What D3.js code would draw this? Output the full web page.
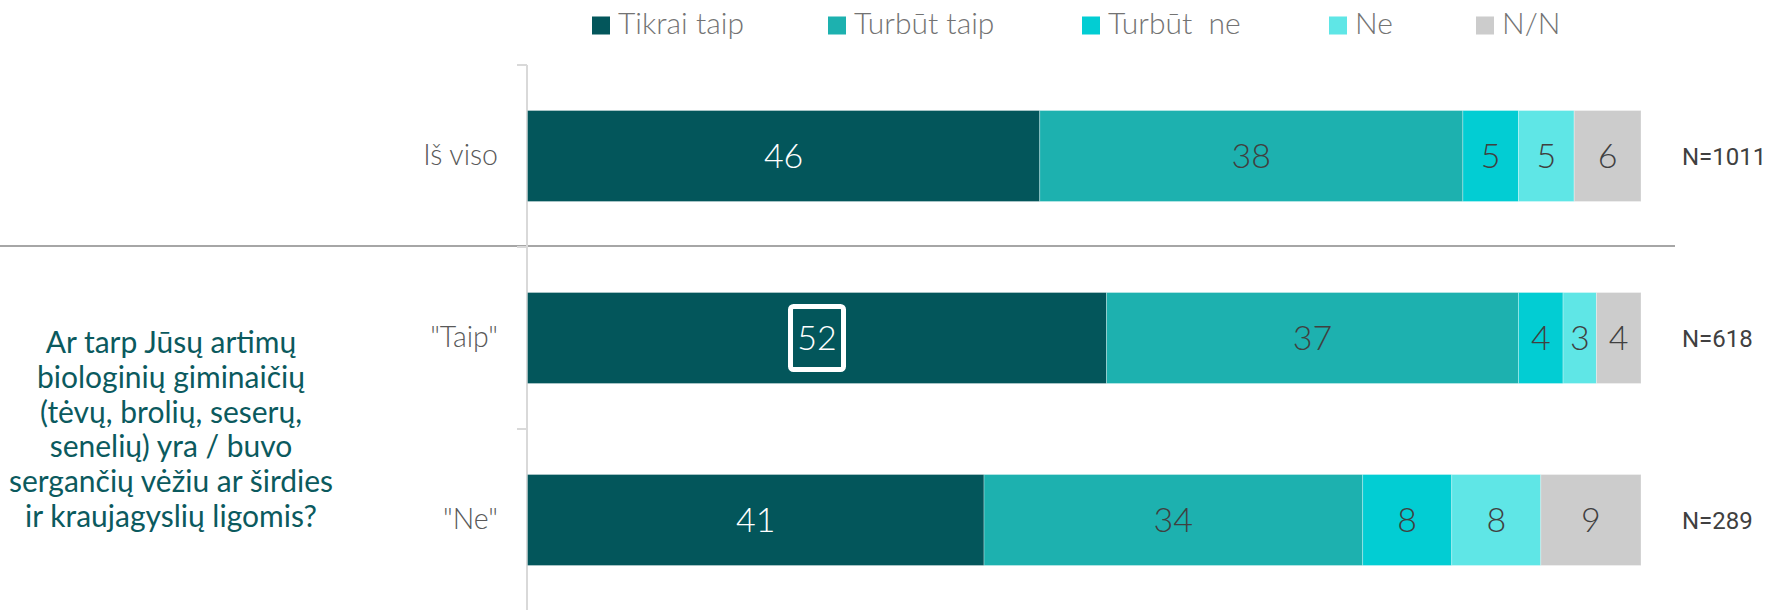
<!DOCTYPE html>
<html>
<head>
<meta charset="utf-8">
<script src="https://cdn.jsdelivr.net/npm/d3@7"></script>
<style>
  html, body { margin: 0; padding: 0; background: #ffffff; }
  svg { display: block; }
  text { font-family: "Segoe UI", "Lato", "Open Sans", sans-serif; white-space: pre; }
</style>
</head>
<body>
<svg id="chart" width="1772" height="610"></svg>
<script>
// ---- data ----
const categories = ["Iš viso", "\"Taip\"", "\"Ne\""];
const seriesNames = ["Tikrai taip", "Turbūt taip", "Turbūt  ne", "Ne", "N/N"];
const tikraiTaip = [46, 52, 41];
const turbutTaip = [38, 37, 34];
const turbutNe   = [5, 4, 8];
const ne         = [5, 3, 8];
const nn         = [6, 4, 9];
const sampleSizes = ["N=1011", "N=618", "N=289"];
const questionLines = [
  "Ar tarp Jūsų artimų",
  "biologinių giminaičių",
  "(tėvų, brolių, seserų,",
  "senelių) yra / buvo",
  "sergančių vėžiu ar širdies",
  "ir kraujagyslių ligomis?"
];
const highlightSeries = "Tikrai taip";
const highlightCategory = "\"Taip\"";

// ---- styles ----
const colors = ["#03565b", "#1db1af", "#02cdd3", "#5fe6e6", "#cccccc"];
const labelColors = ["#ffffff", "#404040", "#404040", "#404040", "#404040"];

const seriesValues = [tikraiTaip, turbutTaip, turbutNe, ne, nn];
const rows = categories.map((c, i) => {
  const r = { category: c };
  seriesNames.forEach((s, k) => { r[s] = seriesValues[k][i]; });
  return r;
});

const svg = d3.select("#chart");

const x = d3.scaleLinear().domain([0, 100]).range([527.5, 1641]);
const y = d3.scaleBand().domain(categories).range([65, 611])
  .paddingInner(0.5).paddingOuter(0.25);
const step = y.step();

const stacked = d3.stack().keys(seriesNames)(rows);

// separator line between total and groups
svg.append("line")
  .attr("x1", 0).attr("x2", 1675)
  .attr("y1", 246).attr("y2", 246)
  .attr("stroke", "#a6a6a6").attr("stroke-width", 2);

// axis line and boundary ticks
const axisX = x(0) - 0.5;
svg.append("line")
  .attr("x1", axisX).attr("x2", axisX)
  .attr("y1", y.range()[0]).attr("y2", 610)
  .attr("stroke", "#d9d9d9").attr("stroke-width", 2);
const boundaries = categories.map((c, i) => y.range()[0] + i * step);
svg.selectAll("line.tick").data(boundaries).enter().append("line")
  .attr("class", "tick")
  .attr("x1", axisX - 10).attr("x2", axisX)
  .attr("y1", d => d).attr("y2", d => d)
  .attr("stroke", "#d9d9d9").attr("stroke-width", 2);

// category labels
svg.selectAll("text.cat").data(categories).enter().append("text")
  .attr("class", "cat")
  .attr("x", 498)
  .attr("y", d => y(d) + y.bandwidth() / 2 + 9)
  .attr("text-anchor", "end")
  .attr("font-size", 28.5)
  .attr("font-weight", 300)
  .attr("fill", "#595959")
  .text(d => d);

// bars
const groups = svg.selectAll("g.series").data(stacked).enter().append("g")
  .attr("class", "series")
  .attr("fill", (d, i) => colors[i]);

groups.selectAll("rect").data(d => d).enter().append("rect")
  .attr("x", d => x(d[0]))
  .attr("y", d => y(d.data.category))
  .attr("width", d => x(d[1]) - x(d[0]))
  .attr("height", y.bandwidth())
  .attr("stroke", "rgba(255,255,255,0.3)")
  .attr("stroke-width", 1);

// value labels
stacked.forEach((s, i) => {
  svg.selectAll(null).data(s).enter().append("text")
    .attr("x", d => (x(d[0]) + x(d[1])) / 2)
    .attr("y", d => y(d.data.category) + y.bandwidth() / 2 + 12)
    .attr("text-anchor", "middle")
    .attr("font-size", 34)
    .attr("font-weight", 300)
    .attr("fill", labelColors[i])
    .text(d => d[1] - d[0]);
});

// highlight box
const hs = stacked[seriesNames.indexOf(highlightSeries)];
const hd = hs.find(d => d.data.category === highlightCategory);
const hcx = (x(hd[0]) + x(hd[1])) / 2;
const hcy = y(highlightCategory) + y.bandwidth() / 2;
svg.append("rect")
  .attr("x", hcx - 26.5).attr("y", hcy - 31.5)
  .attr("width", 53).attr("height", 63)
  .attr("rx", 3)
  .attr("fill", "none")
  .attr("stroke", "#ffffff").attr("stroke-width", 5);

// sample sizes
svg.selectAll("text.n").data(sampleSizes).enter().append("text")
  .attr("class", "n")
  .attr("x", 1682)
  .attr("y", (d, i) => y(categories[i]) + y.bandwidth() / 2 + 9)
  .style("font-family", "Roboto, sans-serif")
  .style("white-space", "normal")
  .attr("font-size", 24)
  .attr("font-weight", 400)
  .attr("fill", "#404040")
  .text(d => d);

// question text
const q = svg.append("text")
  .attr("text-anchor", "middle")
  .attr("font-size", 30)
  .attr("fill", "#0b5a5e");
questionLines.forEach((line, i) => {
  q.append("tspan").attr("x", 171).attr("y", 353 + i * 34.8).text(line);
});

// legend
const legendX = [592, 828, 1082, 1329, 1476];
const legend = svg.selectAll("g.leg").data(seriesNames).enter().append("g")
  .attr("class", "leg")
  .attr("transform", (d, i) => `translate(${legendX[i]},0)`);
legend.append("rect")
  .attr("x", 0).attr("y", 16.5).attr("width", 18).attr("height", 18)
  .attr("fill", (d, i) => colors[i]);
legend.append("text")
  .attr("x", 26).attr("y", 34)
  .attr("font-size", 30)
  .attr("font-weight", 300)
  .attr("fill", "#737373")
  .text(d => d);
</script>
</body>
</html>
